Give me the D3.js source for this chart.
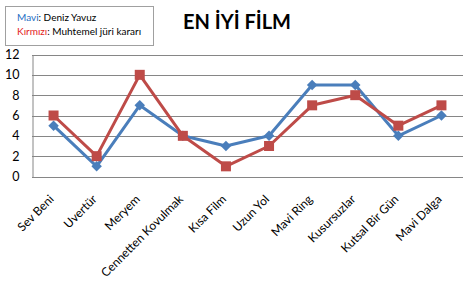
<!DOCTYPE html>
<html>
<head>
<meta charset="utf-8">
<script src="https://cdn.jsdelivr.net/npm/d3@7"></script>
<style>
  body { margin: 0; background: #fff; }
  text { font-family: Lato, "Open Sans", sans-serif; }
</style>
</head>
<body>
<div id="chart"></div>
<script>
const films = ["Sev Beni", "Uvertür", "Meryem", "Cennetten Kovulmak", "Kısa Film",
  "Uzun Yol", "Mavi Ring", "Kusursuzlar", "Kutsal Bir Gün", "Mavi Dalga"];
const mavi = [5, 1, 7, 4, 3, 4, 9, 9, 4, 6];      // Deniz Yavuz
const kirmizi = [6, 2, 10, 4, 1, 3, 7, 8, 5, 7];  // Muhtemel jüri kararı
const yTicks = [0, 2, 4, 6, 8, 10, 12];

const width = 476, height = 284;
const font = "Lato, 'Open Sans', sans-serif";
const svg = d3.select("#chart").append("svg")
  .attr("width", width)
  .attr("height", height);

const x = d3.scaleBand().domain(films).range([32, 463]);
const y = d3.scaleLinear().domain([0, 12]).range([176.5, 54.5]);

// gridlines
svg.append("g")
  .selectAll("line")
  .data(yTicks)
  .enter().append("line")
  .attr("x1", 32).attr("x2", 463)
  .attr("y1", d => Math.round(y(d)) + 0.5)
  .attr("y2", d => Math.round(y(d)) + 0.5)
  .attr("stroke", "#868686");

// y axis
const yAxis = svg.append("g")
  .attr("transform", "translate(32.5,0)")
  .call(d3.axisLeft(y).tickValues(yTicks).tickSize(0).tickPadding(13));
yAxis.select(".domain").attr("stroke", "#868686");
yAxis.selectAll("text")
  .attr("font-size", 12.5)
  .attr("font-family", font)
  .attr("fill", "#000");

// x labels
const xAxis = svg.append("g")
  .attr("transform", "translate(0,177)")
  .call(d3.axisBottom(x).tickSize(0).tickPadding(0));
xAxis.select(".domain").remove();
xAxis.selectAll("text")
  .attr("font-size", 12)
  .attr("font-family", font)
  .attr("fill", "#000")
  .attr("text-anchor", "end")
  .attr("dy", 0)
  .attr("transform", "translate(1,23) rotate(-45)");

const line = d3.line()
  .x((d, i) => x(films[i]) + x.bandwidth() / 2)
  .y(d => y(d));

// blue series
svg.append("path")
  .datum(mavi)
  .attr("d", line)
  .attr("fill", "none")
  .attr("stroke", "#4a7ebb")
  .attr("stroke-width", 3)
  .attr("stroke-linejoin", "round");
svg.append("g")
  .selectAll("path")
  .data(mavi)
  .enter().append("path")
  .attr("d", d3.symbol().type(d3.symbolDiamond2).size(70))
  .attr("transform", (d, i) => `translate(${x(films[i]) + x.bandwidth() / 2},${y(d)})`)
  .attr("fill", "#4a7ebb");

// red series
svg.append("path")
  .datum(kirmizi)
  .attr("d", line)
  .attr("fill", "none")
  .attr("stroke", "#be4b48")
  .attr("stroke-width", 3)
  .attr("stroke-linejoin", "round");
svg.append("g")
  .selectAll("rect")
  .data(kirmizi)
  .enter().append("rect")
  .attr("x", (d, i) => x(films[i]) + x.bandwidth() / 2 - 5)
  .attr("y", d => y(d) - 5)
  .attr("width", 10).attr("height", 10)
  .attr("fill", "#be4b48");

// title
svg.append("text")
  .attr("x", 237).attr("y", 29)
  .attr("text-anchor", "middle")
  .attr("font-size", 20)
  .attr("font-weight", "bold")
  .attr("fill", "#000")
  .text("EN İYİ FİLM");

// legend box
svg.append("rect")
  .attr("x", 5.5).attr("y", 6.5)
  .attr("width", 148).attr("height", 39)
  .attr("fill", "#fff")
  .attr("stroke", "#a0a0a0");

const l1 = svg.append("text").attr("x", 17).attr("y", 20.5).attr("font-size", 10);
l1.append("tspan").attr("fill", "#1f6fc5").text("Mavi");
l1.append("tspan").attr("fill", "#000").text(": Deniz Yavuz");
const l2 = svg.append("text").attr("x", 17).attr("y", 34.5).attr("font-size", 10);
l2.append("tspan").attr("fill", "#e31b23").text("Kırmızı");
l2.append("tspan").attr("fill", "#000").text(": Muhtemel jüri kararı");
</script>
</body>
</html>
